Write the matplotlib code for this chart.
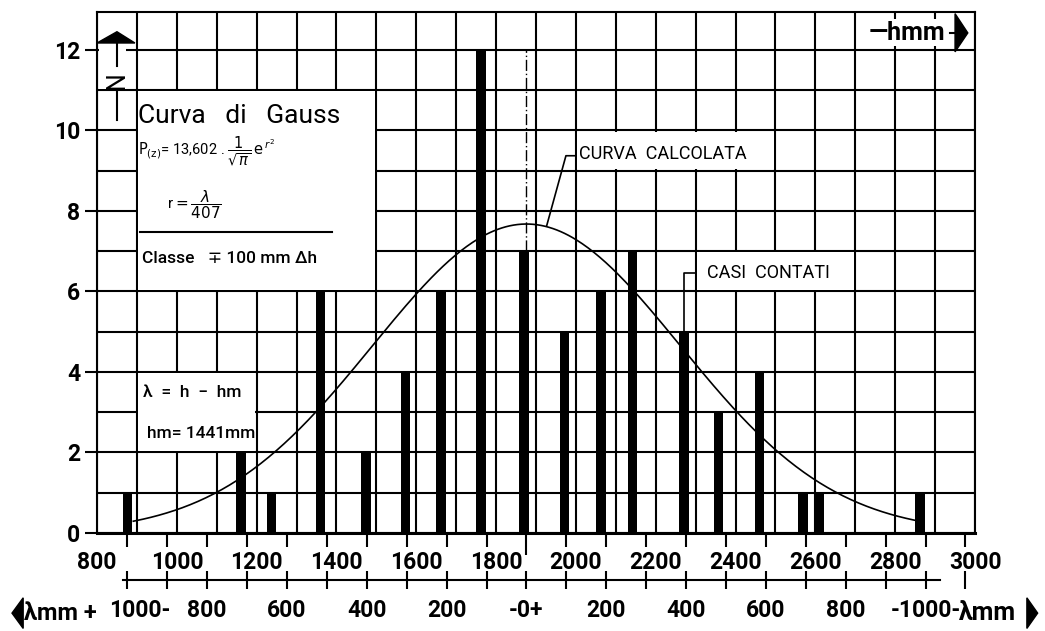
import numpy as np
import matplotlib.pyplot as plt
from matplotlib.ticker import MultipleLocator, FixedLocator, FixedFormatter
from matplotlib.patches import Rectangle, Polygon
from matplotlib.transforms import ScaledTranslation

plt.rcParams['font.family'] = ['Roboto', 'DejaVu Sans']
plt.rcParams['mathtext.fontset'] = 'dejavusans'

# casi contati: altezza h (mm) e numero di casi
h_casi = [877, 1161, 1238, 1361, 1474, 1572, 1662, 1762, 1870,
          1972, 2063, 2141, 2271, 2358, 2461, 2569, 2609, 2862]
n_casi = [1, 2, 1, 6, 2, 4, 6, 12, 7, 5, 6, 7, 5, 3, 4, 1, 1, 1]

h_ticks = [800, 1000, 1200, 1400, 1600, 1800, 2000, 2200, 2400, 2600, 2800, 3000]
h_labels = ['800', '1000', '1200', '1400', '1600', '1800', '2000', '2200',
            '2400', '2600', '2800', '3000']
lam_ticks = [-1000, -800, -600, -400, -200, 0, 200, 400, 600, 800, 1000]
lam_labels = ['1000-', '800', '600', '400', '200', '-0+', '200', '400',
              '600', '800', '-1000-']

H0 = 1876                      # centro della curva sul disegno (mm)
P0 = 13.602 / np.sqrt(np.pi)   # massimo della curva calcolata
S_DIS = 545                    # larghezza della curva come disegnata (mm)
lam_curve = [-985, 975]        # estremi della curva disegnata

dpi = 100.
fig = plt.figure(figsize=(1045/dpi, 631/dpi), dpi=dpi)
ax = fig.add_axes([97/1045, 1 - 533/631, 878/1045, 521/631])

lw = 1.5
ax.set_xlim(800, 3000)
ax.set_ylim(0, 12.94)
ax.set_axisbelow(True)
ax.xaxis.set_major_locator(FixedLocator(h_ticks))
ax.xaxis.set_major_formatter(FixedFormatter(h_labels))
ax.xaxis.set_minor_locator(MultipleLocator(100))
ax.yaxis.set_major_locator(MultipleLocator(2))
ax.yaxis.set_minor_locator(MultipleLocator(1))
ax.grid(which='both', color='black', lw=lw)
ax.tick_params(axis='x', which='both', length=0, pad=13, labelsize=16.5)
ax.tick_params(axis='y', which='major', length=9, width=lw, pad=3, labelsize=16.5)
ax.tick_params(axis='y', which='minor', length=0)
for s in ax.spines.values():
    s.set_linewidth(lw)
ax.spines['bottom'].set_linewidth(2.2)
for t in ax.get_xticklabels() + ax.get_yticklabels():
    t.set_fontweight('bold')

to_lam = (lambda h: h - H0, lambda l: l + H0)

# tacche lambda sotto lo zero
sec0 = ax.secondary_xaxis(0, functions=to_lam)
sec0.xaxis.set_major_locator(FixedLocator([0]))
sec0.xaxis.set_minor_locator(MultipleLocator(100))
sec0.tick_params(which='major', direction='out', length=16, width=lw, labelbottom=False)
sec0.tick_params(which='minor', direction='out', length=10, width=lw)
sec0.spines['bottom'].set_visible(False)

# asse lambda
secL = ax.secondary_xaxis(-0.0902, functions=to_lam)
secL.xaxis.set_major_locator(FixedLocator(lam_ticks))
secL.xaxis.set_major_formatter(FixedFormatter(lam_labels))
secL.xaxis.set_minor_locator(MultipleLocator(100))
secL.tick_params(which='both', direction='inout', length=13, width=lw, pad=7, labelsize=16.5)
secL.spines['bottom'].set_bounds(-1011, 1036)
secL.spines['bottom'].set_linewidth(lw)
for t in secL.get_xticklabels():
    t.set_fontweight('bold')
# "1000-" sta a destra della tacca, dopo "λmm +"
first = secL.xaxis.get_major_ticks()[0].label1
first.set_transform(first.get_transform() + ScaledTranslation(9/72, 0, fig.dpi_scale_trans))

# riquadri bianchi
dx, dy = 3, 0.03
for x0, x1, y0, y1 in [(900, 1500, 6, 11), (900, 1200, 2, 4), (2000, 2500, 9, 10),
                       (2300, 2700, 6, 7), (802, 875, 11, 12.3)]:
    ax.add_patch(Rectangle((x0 + dx, y0 + dy), x1 - x0 - 2*dx, y1 - y0 - 2*dy,
                           fc='white', ec='none', zorder=1))

ax.bar(h_casi, n_casi, width=23, color='black', zorder=3)

lam = np.linspace(lam_curve[0], lam_curve[1], 400)
ax.plot(lam + H0, P0*np.exp(-(lam/S_DIS)**2), color='black', lw=1.2, zorder=4)

ax.plot([H0, H0], [7, 12], color='black', lw=1, ls=(0, (8, 2, 1, 2)), zorder=2)

# richiami
ax.plot([1927, 1975, 2000], [7.64, 9.37, 9.37], color='black', lw=1.2, zorder=4)
ax.plot([2271, 2271, 2300], [5, 6.46, 6.46], color='black', lw=1.2, zorder=4)
ax.text(2008, 9.42, 'CURVA  CALCOLATA', fontsize=13, va='center', zorder=5)
ax.text(2328, 6.46, 'CASI  CONTATI', fontsize=13, va='center', zorder=5)

# testo della curva
ax.text(902, 10.36, 'Curva   di   Gauss', fontsize=19, va='center', zorder=5)
ax.text(902, 9.48, r'$\mathrm{P_{(z)}}$= 13,602 . $\dfrac{1}{\sqrt{\pi}}\,\mathrm{e}^{\,r^{2}}$',
        fontsize=10.5, va='center', zorder=5)
ax.text(975, 8.15, r'r$=\dfrac{\lambda}{407}$', fontsize=11, va='center', zorder=5)
ax.plot([907, 1389], [7.48, 7.48], color='black', lw=lw, zorder=5)
ax.text(913, 6.83, 'Classe   ∓ 100 mm Δh', fontsize=12.5, fontweight='medium',
        va='center', zorder=5)
ax.text(915, 3.5, 'λ  =  h  −  hm', fontsize=12.5, fontweight='medium', va='center', zorder=5)
ax.text(925, 2.48, 'hm= 1441mm', fontsize=12.5, fontweight='medium', va='center', zorder=5)

# freccia N
ax.add_patch(Polygon([[800, 12.17], [850, 12.45], [895, 12.17]], closed=True,
                     fc='black', ec='black', zorder=5))
ax.plot([850, 850], [12.17, 11.6], color='black', lw=lw, zorder=5)
ax.plot([850, 850], [10.95, 10.26], color='black', lw=lw, zorder=5)
ax.text(850, 11.25, 'N', fontsize=18, rotation=90, ha='center', va='center', zorder=5)

# freccia hmm
ax.text(2830, 12.42, '—hmm', fontsize=18, fontweight='bold', ha='center', va='center',
        zorder=5, bbox=dict(fc='white', ec='none', pad=1))
ax.plot([2937, 2950], [12.42, 12.42], color='black', lw=lw, zorder=5)
ax.add_patch(Polygon([[2950, 11.95], [2950, 12.9], [2982, 12.42]], closed=True,
                     fc='black', ec='black', zorder=5))

# frecce lambda
ax.add_patch(Polygon([[587, -1.99], [615, -1.61], [615, -2.37]], closed=True,
                     fc='black', ec='black', clip_on=False))
ax.text(617, -1.99, 'λmm +', fontsize=17, fontweight='bold', va='center', clip_on=False)
ax.text(2960, -1.99, 'λmm', fontsize=18, fontweight='bold', va='center', clip_on=False)
ax.add_patch(Polygon([[3130, -1.61], [3130, -2.37], [3157, -1.99]], closed=True,
                     fc='black', ec='black', clip_on=False))

fig.savefig('out.png', dpi=dpi)
